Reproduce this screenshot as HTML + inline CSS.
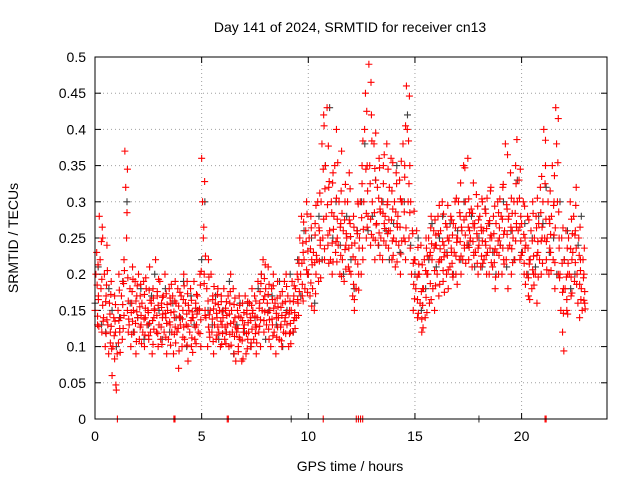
<!DOCTYPE html>
<html><head><meta charset="utf-8"><style>
body{margin:0;background:#fff;}
svg{display:block;font-family:"Liberation Sans",sans-serif;}
</style></head><body>
<svg id="chart" width="640" height="480">
<text x="350" y="32" font-size="14" text-anchor="middle">Day 141 of 2024, SRMTID for receiver cn13</text>
<text x="350" y="471" font-size="14" text-anchor="middle">GPS time / hours</text>
<text x="18" y="238" font-size="14" text-anchor="middle" transform="rotate(-90 18 238)">SRMTID / TECUs</text>
<g id="grid"></g><g id="ticks"></g><g id="black"></g><g id="red"></g>
<rect x="95" y="57" width="512" height="362" fill="none" stroke="#000"/>
</svg>
<script>
const xTicks=[0,5,10,15,20];
const yTicks=[0,0.05,0.1,0.15,0.2,0.25,0.3,0.35,0.4,0.45,0.5];
const yTickLabels=["0","0.05","0.1","0.15","0.2","0.25","0.3","0.35","0.4","0.45","0.5"];
const redStep=0.2;
const redValues=[
[.15,.2,.23,.13,.17],[.28,.22,.18,.12,.25],[.14,.2,.1,.17,.24],[.13,.09,.16,.12,.19],[.06,.1,.14,.17,.12],
[.04,.09,.15,.2,.12],[.14,.17,.11,.19,.22],[.37,.32,.25,.15,.12],[.13,.18,.1,.16,.21],[.15,.12,.19,.09,.17],
[.14,.2,.11,.17,.13],[.16,.12,.19,.1,.14],[.18,.13,.15,.11,.21],[.12,.16,.09,.18,.14],[.15,.22,.12,.17,.1],
[.13,.19,.11,.16,.14],[.17,.12,.2,.14,.09],[.15,.11,.18,.13,.16],[.12,.17,.09,.14,.19],[.16,.12,.18,.07,.14],
[.13,.17,.1,.15,.2],[.11,.16,.13,.19,.08],[.15,.12,.18,.1,.14],[.14,.19,.11,.16,.13],[.17,.12,.15,.2,.1],
[.36,.3,.25,.2,.15],[.14,.18,.1,.22,.12],[.15,.2,.12,.17,.09],[.13,.16,.11,.14,.18],[.12,.15,.1,.17,.13],
[.14,.18,.11,.15,.12],[.13,.17,.1,.16,.2],[.15,.12,.18,.09,.14],[.08,.12,.15,.1,.17],[.11,.14,.08,.16,.12],
[.13,.17,.09,.15,.11],[.12,.16,.14,.1,.18],[.15,.11,.17,.13,.09],[.14,.19,.12,.16,.1],[.2,.15,.22,.12,.17],
[.18,.13,.16,.21,.11],[.15,.1,.18,.13,.2],[.12,.16,.09,.14,.19],[.14,.11,.17,.13,.1],[.16,.12,.19,.14,.2],
[.13,.17,.1,.15,.12],[.15,.19,.12,.17,.14],[.18,.14,.2,.16,.22],[.25,.2,.28,.17,.23],[.22,.18,.26,.3,.2],
[.2,.25,.17,.28,.22],[.18,.23,.15,.27,.2],[.22,.3,.19,.26,.24],[.3,.38,.25,.42,.22],[.35,.28,.43,.24,.32],
[.26,.22,.3,.2,.34],[.28,.35,.23,.4,.25],[.24,.3,.2,.27,.37],[.22,.26,.19,.3,.24],[.25,.3,.21,.34,.27],
[.2,.24,.17,.28,.15],[.22,.18,.26,.3,.2],[.25,.3,.2,.35,.22],[.3,.4,.45,.25,.35],[.28,.49,.35,.24,.42],
[.3,.25,.38,.22,.33],[.27,.32,.24,.36,.29],[.25,.3,.22,.35,.27],[.28,.24,.38,.3,.26],[.32,.26,.36,.22,.29],
[.25,.3,.21,.34,.27],[.28,.24,.33,.2,.3],[.3,.38,.25,.35,.22],[.46,.4,.3,.25,.35],[.3,.2,.26,.15,.22],
[.22,.18,.26,.14,.2],[.2,.16,.24,.12,.18],[.18,.22,.14,.25,.2],[.2,.25,.16,.23,.28],[.22,.18,.26,.15,.24],
[.24,.2,.28,.17,.22],[.26,.22,.3,.19,.24],[.23,.27,.2,.25,.18],[.25,.21,.28,.23,.2],[.27,.23,.3,.2,.25],
[.25,.3,.22,.28,.2],[.26,.22,.35,.24,.3],[.28,.24,.36,.22,.26],[.25,.29,.21,.27,.23],[.27,.23,.31,.25,.2],
[.24,.28,.21,.26,.3],[.26,.22,.29,.24,.2],[.23,.27,.2,.25,.32],[.25,.21,.28,.23,.18],[.27,.23,.3,.2,.25],
[.24,.28,.2,.32,.22],[.26,.38,.22,.29,.18],[.28,.24,.34,.2,.26],[.25,.3,.22,.35,.27],[.3,.26,.33,.22,.28],
[.27,.23,.3,.2,.25],[.24,.2,.28,.17,.22],[.22,.26,.18,.3,.2],[.25,.2,.28,.16,.23],[.27,.22,.32,.2,.25],
[.3,.4,.25,.35,.22],[.25,.3,.2,.27,.23],[.28,.35,.22,.3,.18],[.43,.38,.3,.2,.25],[.2,.15,.25,.12,.18],
[.22,.18,.26,.15,.2],[.25,.2,.3,.17,.22],[.23,.28,.19,.26,.32],[.2,.16,.25,.14,.22],[.18,.15,.22,.2,.16]
];
const redValuesB=[
[.185,.142,.213,.165,.128],[.245,.193,.265,.157,.135],[.162,.118,.185,.137,.205],[.145,.105,.172,.128,.097],[.115,.083,.135,.158,.047],
[.105,.136,.178,.125,.092],[.158,.125,.187,.143,.205],[.285,.345,.195,.163,.138],[.147,.117,.176,.135,.193],[.132,.163,.107,.148,.184],
[.155,.127,.186,.143,.104],[.138,.172,.116,.153,.195],[.147,.115,.178,.132,.164],[.136,.103,.167,.124,.152],[.143,.176,.118,.157,.193],
[.127,.154,.103,.168,.145],[.146,.113,.173,.132,.158],[.134,.167,.102,.147,.186],[.148,.117,.163,.127,.105],[.125,.156,.094,.142,.175],
[.138,.113,.165,.127,.184],[.145,.102,.173,.128,.157],[.136,.164,.112,.148,.092],[.127,.153,.104,.172,.145],[.152,.118,.185,.137,.204],
[.265,.187,.328,.143,.225],[.163,.127,.196,.144,.113],[.138,.165,.107,.152,.183],[.146,.116,.172,.127,.158],[.135,.162,.103,.148,.118],
[.127,.153,.104,.162,.143],[.145,.117,.176,.132,.102],[.134,.158,.114,.167,.127],[.125,.093,.142,.113,.157],[.108,.136,.083,.125,.147],
[.118,.145,.097,.162,.133],[.136,.105,.157,.124,.146],[.142,.118,.163,.127,.105],[.153,.128,.176,.137,.187],[.165,.136,.194,.148,.213],
[.147,.172,.124,.186,.137],[.138,.165,.115,.184,.153],[.146,.113,.167,.127,.155],[.127,.154,.108,.143,.176],[.135,.162,.118,.147,.183],
[.145,.118,.163,.132,.104],[.162,.136,.184,.147,.125],[.165,.193,.143,.215,.176],[.215,.186,.243,.163,.272],[.245,.206,.283,.175,.232],
[.235,.188,.264,.156,.213],[.216,.254,.173,.295,.226],[.264,.218,.312,.247,.195],[.345,.276,.405,.235,.318],[.296,.254,.377,.215,.328],
[.285,.243,.326,.217,.262],[.245,.305,.217,.276,.354],[.265,.226,.315,.197,.284],[.275,.234,.324,.207,.256],[.236,.275,.204,.318,.252],
[.224,.186,.265,.165,.243],[.256,.214,.297,.178,.236],[.278,.325,.236,.384,.262],[.345,.284,.425,.265,.315],[.325,.276,.465,.255,.384],
[.285,.346,.247,.395,.268],[.305,.257,.347,.226,.286],[.284,.325,.246,.365,.263],[.296,.256,.345,.236,.275],[.275,.315,.246,.354,.226],
[.286,.245,.325,.217,.265],[.265,.304,.228,.356,.246],[.286,.334,.245,.405,.264],[.384,.325,.446,.285,.236],[.256,.215,.186,.287,.166],
[.196,.165,.237,.146,.214],[.176,.138,.213,.157,.126],[.205,.168,.236,.147,.225],[.226,.187,.264,.165,.242],[.236,.205,.275,.184,.254],
[.256,.217,.295,.186,.235],[.245,.205,.283,.224,.175],[.265,.226,.295,.206,.246],[.236,.275,.215,.254,.196],[.264,.225,.305,.244,.186],
[.285,.245,.326,.225,.265],[.275,.236,.347,.254,.215],[.265,.304,.237,.285,.246],[.284,.245,.326,.226,.264],[.256,.215,.294,.236,.275],
[.265,.225,.304,.246,.215],[.245,.284,.226,.263,.305],[.274,.236,.315,.254,.216],[.256,.216,.294,.235,.196],[.246,.285,.226,.264,.304],
[.276,.236,.324,.255,.214],[.296,.255,.365,.236,.276],[.265,.305,.235,.284,.216],[.284,.246,.325,.265,.386],[.305,.265,.345,.246,.226],
[.255,.215,.294,.236,.186],[.236,.195,.275,.214,.165],[.246,.206,.284,.225,.185],[.264,.226,.305,.245,.196],[.285,.246,.335,.265,.215],
[.325,.385,.276,.245,.206],[.276,.236,.315,.255,.205],[.295,.254,.336,.216,.264],[.354,.415,.286,.236,.195],[.215,.175,.264,.146,.094],
[.196,.165,.236,.145,.215],[.235,.196,.276,.174,.256],[.254,.216,.295,.236,.186],[.226,.186,.265,.205,.165],[.195,.164,.236,.176,.152]
];
const blackStep=0.5;
const blackValues=[
[.16,.21,.13],[.12,.18,.15],[.1,.14,.19],[.3,.16,.12],[.14,.18,.11],[.13,.17,.2],[.15,.11,.18],[.12,.16,.14],
[.14,.19,.1],[.17,.13,.15],[.22,.3,.15],[.13,.17,.11],[.15,.12,.19],[.09,.13,.16],[.12,.16,.1],[.14,.18,.2],
[.11,.15,.17],[.13,.19,.1],[.15,.2,.12],[.22,.17,.26],[.2,.25,.16],[.28,.22,.35],[.43,.25,.3],[.24,.2,.28],
[.22,.18,.26],[.3,.38,.26],[.28,.33,.24],[.3,.26,.22],[.27,.35,.23],[.3,.42,.24],[.2,.25,.15],[.18,.22,.27],
[.21,.25,.28],[.23,.27,.2],[.26,.22,.3],[.24,.28,.21],[.25,.21,.29],[.27,.23,.2],[.24,.3,.21],[.26,.22,.33],
[.23,.27,.2],[.25,.21,.28],[.27,.32,.23],[.25,.2,.3],[.22,.26,.18],[.2,.24,.28]
];
const redZeroTimes=[1.05,3.7,3.75,6.2,6.25,10.7,12.25,12.35,12.45,12.55,21.1,21.15];
const blackZeroTimes=[9.2,18.0];
const xS=t=>95+t*21.33;
const yS=v=>419-v*724;
const NS="http://www.w3.org/2000/svg";
function mk(tag,attrs,parent){const e=document.createElementNS(NS,tag);for(const k in attrs)e.setAttribute(k,attrs[k]);parent.appendChild(e);return e;}
const grid=document.getElementById('grid'),ticks=document.getElementById('ticks');
yTicks.forEach((v,i)=>{
  const y=yS(v);
  if(i>0&&i<yTicks.length-1){const g=mk('line',{x1:95,x2:607,y1:y,y2:y,stroke:'#a0a0a0','stroke-dasharray':'1,3'},grid);
  
  }
  mk('line',{x1:95,x2:101,y1:y,y2:y,stroke:'#000'},ticks);
  mk('line',{x1:601,x2:607,y1:y,y2:y,stroke:'#000'},ticks);
  const t=mk('text',{x:86,y:y+5,'font-size':14,'text-anchor':'end'},ticks);t.textContent=yTickLabels[i];
  
  
});
xTicks.forEach(v=>{
  const x=xS(v);
  if(v>0){const g=mk('line',{x1:x,x2:x,y1:57,y2:419,stroke:'#a0a0a0','stroke-dasharray':'1,3'},grid);
  
  }
  mk('line',{x1:x,x2:x,y1:419,y2:413,stroke:'#000'},ticks);
  mk('line',{x1:x,x2:x,y1:57,y2:63,stroke:'#000'},ticks);
  const t=mk('text',{x:x,y:441,'font-size':14,'text-anchor':'middle'},ticks);t.textContent=String(v);
  
  
});
function plus(parent,t,v,color,name){
  const x=xS(t),y=yS(v);
  const p=mk('path',{d:`M${x-3.5} ${y}h7M${x} ${y-3.5}v7`,stroke:color,'stroke-width':1.1,fill:'none'},parent);
  
  
}
const blackG=document.getElementById('black'),redG=document.getElementById('red');
blackValues.forEach((g,i)=>g.forEach((v,j)=>plus(blackG,i*blackStep+j*0.15,v,'#404040','black-point')));
blackZeroTimes.forEach(t=>plus(blackG,t,0,'#404040','black-zero-point'));
redValues.forEach((g,i)=>g.forEach((v,j)=>plus(redG,i*redStep+j*0.04,v,'#ff0000','red-point')));
redValuesB.forEach((g,i)=>g.forEach((v,j)=>plus(redG,i*redStep+0.1+j*0.02,v,'#ff0000','red-point')));
redZeroTimes.forEach(t=>plus(redG,t,0,'#ff0000','red-zero-point'));
</script>
</body></html>
